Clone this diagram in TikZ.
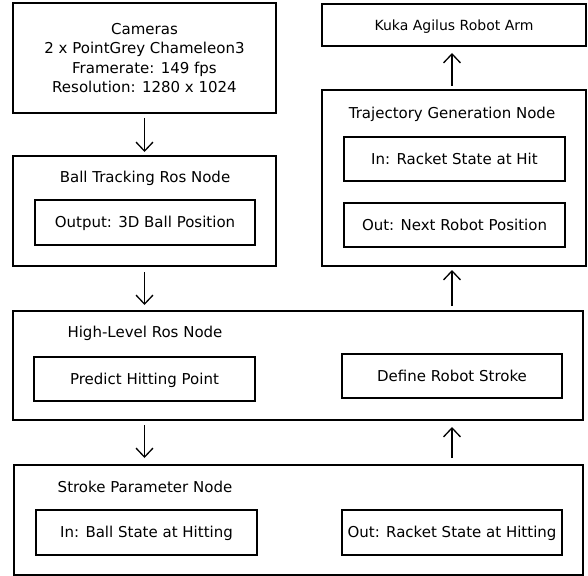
\documentclass[tikz,border=0pt]{standalone}
\usepackage{fontspec}
\setmainfont{DejaVu Sans}
\usetikzlibrary{arrows.meta}
\begin{document}
\begin{tikzpicture}[x=1bp,y=-1bp,
  box/.style={draw, line width=1.8bp, rectangle, inner sep=0pt, outer sep=0pt,
    font=\fontsize{15bp}{19.3bp}\selectfont, align=center},
  lbl/.style={inner sep=0pt, font=\fontsize{15bp}{19.3bp}\selectfont, anchor=base},
  capc/.style={text height=10.9bp, text depth=0bp},
  arr/.style={line width=1.3bp, -{Straight Barb[length=9bp,width=17bp]}}
]
\useasboundingbox (0,0) rectangle (588,576);
% left column
\node[box, minimum width=263bp, minimum height=110bp] (cam) at (144.5,58)
  {Cameras\\2 x PointGrey Chameleon3\\Framerate: 149 fps\\Resolution: 1280 x 1024};
\node[box, minimum width=263bp, minimum height=110bp] (bt) at (144.5,211) {};
\node[lbl] (btt) at (145,182.5) {Ball Tracking Ros Node};
\node[box, capc, minimum width=220bp, minimum height=45bp] (btout) at (145,222.5) {Output: 3D Ball Position};
% high level
\node[box, minimum width=570bp, minimum height=109bp] (hl) at (298,365.5) {};
\node[lbl] (hlt) at (145,337.5) {High-Level Ros Node};
\node[box, capc, minimum width=221bp, minimum height=44bp] (pred) at (144.5,379) {Predict Hitting Point};
\node[box, capc, minimum width=220bp, minimum height=44bp] (def) at (452,376) {Define Robot Stroke};
% stroke parameter
\node[box, minimum width=569bp, minimum height=110bp] (sp) at (298.5,520) {};
\node[lbl] (spt) at (145,492.5) {Stroke Parameter Node};
\node[box, capc, minimum width=221bp, minimum height=45bp] (inball) at (146.5,532.5) {In: Ball State at Hitting};
\node[box, capc, minimum width=220bp, minimum height=45bp] (outrack) at (452,532.5) {Out: Racket State at Hitting};
% right column
\node[box, capc, minimum width=264bp, minimum height=42bp, font=\fontsize{14bp}{18bp}\selectfont] (kuka) at (454,25) {Kuka Agilus Robot Arm};
\node[box, minimum width=264bp, minimum height=176bp] (tg) at (454,178) {};
\node[lbl] (tgt) at (452,118.5) {Trajectory Generation Node};
\node[box, capc, minimum width=221bp, minimum height=44bp] (tgin) at (454.5,159) {In: Racket State at Hit};
\node[box, capc, minimum width=221bp, minimum height=44bp] (tgout) at (454.5,225) {Out: Next Robot Position};
% arrows
\coordinate (ax) at (452,0);
\draw[arr, shorten <=5bp, shorten >=4bp] (cam.south) -- (bt.north);
\draw[arr, shorten <=6bp, shorten >=6bp] (bt.south) -- (bt.south |- hl.north);
\draw[arr, shorten <=5bp, shorten >=7bp] (bt.south |- hl.south) -- (bt.south |- sp.north);
\draw[arr, shorten <=7bp, shorten >=7bp] (sp.north -| ax) -- (hl.south -| ax);
\draw[arr, shorten <=5bp, shorten >=4bp] (hl.north -| ax) -- (tg.south -| ax);
\draw[arr, shorten <=4bp, shorten >=7bp] (tg.north -| ax) -- (kuka.south -| ax);
\end{tikzpicture}
\end{document}
